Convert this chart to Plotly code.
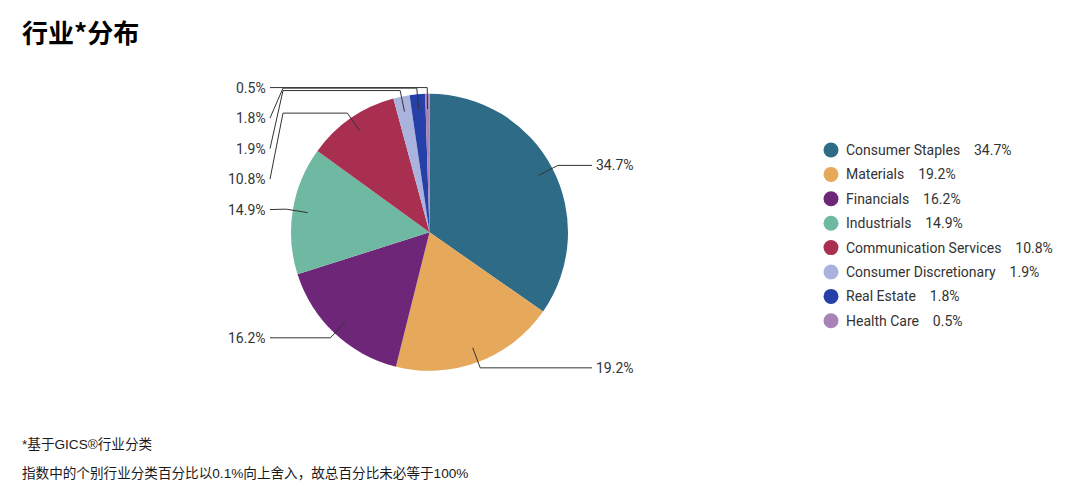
import math
import plotly.graph_objects as go

# Sector weights (GICS)
sectors = ['Consumer Staples', 'Materials', 'Financials', 'Industrials',
           'Communication Services', 'Consumer Discretionary', 'Real Estate', 'Health Care']
weights = [34.7, 19.2, 16.2, 14.9, 10.8, 1.9, 1.8, 0.5]
colors = ['#2e6b87', '#e6a85a', '#6e2679', '#6fb9a3',
          '#a92f50', '#aab3de', '#2540a8', '#a983b8']

title_text = '行业*分布'
note_lines = ['*基于GICS®行业分类',
              '指数中的个别行业分类百分比以0.1%向上舍入，故总百分比未必等于100%']

# the page body has an 8px margin, so the figure is a bit smaller than the window
OFF = 8
W, H = 1080 - 2 * OFF, 494 - 2 * OFF
# pie geometry in page pixels (top-left origin)
cx, cy, r = 429.5, 232.3, 138.5
label_font = dict(family='Roboto, Noto Sans', size=14, color='#333333')

fig = go.Figure()

# pie placed exactly on a pixel square so leader lines can be drawn over it
fig.add_trace(go.Pie(
    labels=sectors, values=weights, sort=False,
    direction='clockwise', rotation=0,
    marker=dict(colors=colors, line=dict(width=0)),
    textinfo='none', hoverinfo='label+percent', showlegend=False,
    domain=dict(x=[(cx - r - OFF) / W, (cx + r - OFF) / W],
                y=[(H + OFF - cy - r) / H, (H + OFF - cy + r) / H]),
))

# leader lines + percentage labels, positioned from the slice mid-angles
total = sum(weights)
cum = 0.0
items = []
for name, v in zip(sectors, weights):
    theta = 2 * math.pi * (cum + v / 2) / total
    cum += v
    s, c = math.sin(theta), math.cos(theta)
    inner = (cx + 0.89 * r * s, cy - 0.89 * r * c)
    elbow = (cx + 1.045 * r * s, cy - 1.045 * r * c)
    items.append(dict(v=v, s=s, inner=inner, elbow=elbow))

shapes = []
annotations = []


def add_path(points):
    path = 'M ' + ' L '.join(f'{x:.2f},{y:.2f}' for x, y in points)
    shapes.append(dict(type='path', path=path, xref='x', yref='y', layer='above',
                       line=dict(color='#333333', width=1)))


for it in items:
    if it['s'] > 0:  # right side
        ex, ey = it['elbow']
        add_path([it['inner'], it['elbow'], (592, ey)])
        annotations.append(dict(x=594, y=ey, xref='x', yref='y', text=f"{it['v']}%",
                                xanchor='left', yanchor='middle', showarrow=False, font=label_font))

left = sorted([it for it in items if it['s'] <= 0], key=lambda d: d['elbow'][1])
prev = -1e9
for it in left:
    ex, ey = it['elbow']
    ly = max(ey, prev + 30.5)
    prev = ly
    add_path([it['inner'], it['elbow'], (283, ey), (270, ly)])
    annotations.append(dict(x=268, y=ly, xref='x', yref='y', text=f"{it['v']}%",
                            xanchor='right', yanchor='middle', showarrow=False, font=label_font))

# custom legend with round markers
leg_x, leg_y0, leg_dy = 831, 150, 24.4
leg_y = [leg_y0 + i * leg_dy for i in range(len(sectors))]
fig.add_trace(go.Scatter(
    x=[leg_x] * len(sectors), y=leg_y, mode='markers',
    marker=dict(size=15, color=colors), hoverinfo='skip', showlegend=False,
))
for name, v, y in zip(sectors, weights, leg_y):
    annotations.append(dict(x=844, y=y, xref='x', yref='y',
                            text=name + '\u00a0' * 4 + f'{v}%',
                            xanchor='left', yanchor='middle', showarrow=False, font=label_font))

# title and footnotes
annotations.append(dict(x=20, y=31, xref='x', yref='y', text='<b>' + title_text + '</b>',
                        xanchor='left', yanchor='middle', showarrow=False,
                        font=dict(family='Noto Sans CJK SC', size=26, color='#000000')))
for text, y in zip(note_lines, [444, 473]):
    annotations.append(dict(x=20, y=y, xref='x', yref='y', text=text,
                            xanchor='left', yanchor='middle', showarrow=False,
                            font=dict(family='Liberation Sans, Noto Sans CJK SC', size=13.6,
                                      color='#1a1a1a')))

fig.update_layout(
    width=W, height=H,
    margin=dict(l=0, r=0, t=0, b=0),
    paper_bgcolor='white', plot_bgcolor='white',
    xaxis=dict(range=[OFF, OFF + W], visible=False, fixedrange=True),
    yaxis=dict(range=[OFF + H, OFF], visible=False, fixedrange=True),
    shapes=shapes, annotations=annotations, showlegend=False,
)

fig.write_html('out.html')
